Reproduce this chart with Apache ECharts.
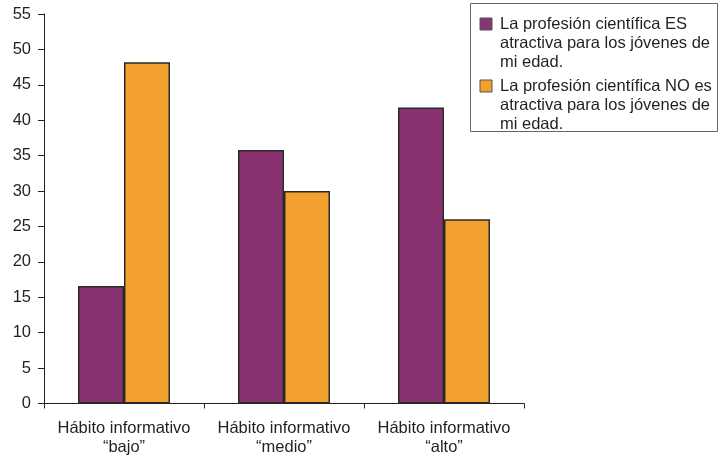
<!DOCTYPE html>
<html>
<head>
<meta charset="utf-8">
<script src="https://cdn.jsdelivr.net/npm/echarts@6/dist/echarts.min.js"></script>
<style>
  html, body { margin: 0; padding: 0; background: #fff; }
  #chart { width: 719px; height: 455px; }
</style>
</head>
<body>
<div id="chart"></div>
<script>
  // categorias del eje x
  var categories = ['Hábito informativo\n“bajo”', 'Hábito informativo\n“medio”', 'Hábito informativo\n“alto”'];
  var seriesNames = [
    'La profesión científica ES\natractiva para los jóvenes de\nmi edad.',
    'La profesión científica NO es\natractiva para los jóvenes de\nmi edad.'
  ];
  var esAtractiva = [16.6, 35.8, 41.8];
  var noAtractiva = [48.2, 30.0, 26.0];
  var yTicks = [0, 55, 5]; // min, max, interval

  var colors = ['#893272', '#f2a12f'];
  var ink = '#231f20';
  var font = '"Liberation Sans", Arial, sans-serif';

  var chart = echarts.init(document.getElementById('chart'));

  // leyenda dibujada a mano (icono alineado con la primera linea)
  var legendItems = [];
  seriesNames.forEach(function (name, i) {
    var top = 18 + i * 62;
    legendItems.push({
      type: 'rect',
      shape: {x: 480, y: top, width: 12, height: 12},
      style: {fill: colors[i], stroke: '#555', lineWidth: 1}
    });
    legendItems.push({
      type: 'text',
      x: 500,
      y: top - 3,
      style: {
        text: name,
        fill: ink,
        font: '16.5px ' + font,
        lineHeight: 19,
        verticalAlign: 'top'
      }
    });
  });

  var option = {
    animation: false,
    textStyle: {fontFamily: font},
    grid: {left: 44, right: 195, top: 14, bottom: 51.5, containLabel: false, outerBoundsMode: 'none'},
    xAxis: {
      type: 'category',
      data: categories,
      axisLine: {lineStyle: {color: ink, width: 1}},
      axisTick: {show: true, length: 5, lineStyle: {color: ink}},
      axisLabel: {
        color: ink,
        fontSize: 16.5,
        lineHeight: 19,
        margin: 15,
        interval: 0
      },
      splitLine: {show: false}
    },
    yAxis: {
      type: 'value',
      min: yTicks[0],
      max: yTicks[1],
      interval: yTicks[2],
      axisLine: {show: true, lineStyle: {color: ink, width: 1}},
      axisTick: {show: true, length: 6, lineStyle: {color: ink}},
      axisLabel: {color: ink, fontSize: 16.5, margin: 13},
      splitLine: {show: false}
    },
    series: [
      {
        name: seriesNames[0],
        type: 'bar',
        data: esAtractiva,
        barWidth: 46,
        barGap: '0%',
        itemStyle: {color: colors[0], borderColor: '#2a2a2a', borderWidth: 1.5}
      },
      {
        name: seriesNames[1],
        type: 'bar',
        data: noAtractiva,
        barWidth: 46,
        barGap: '0%',
        itemStyle: {color: colors[1], borderColor: '#2a2a2a', borderWidth: 1.5}
      }
    ],
    graphic: [
      {
        type: 'rect',
        shape: {x: 470.5, y: 3.5, width: 247, height: 128},
        style: {fill: 'none', stroke: '#666', lineWidth: 1}
      }
    ].concat(legendItems)
  };

  chart.setOption(option);
</script>
</body>
</html>
